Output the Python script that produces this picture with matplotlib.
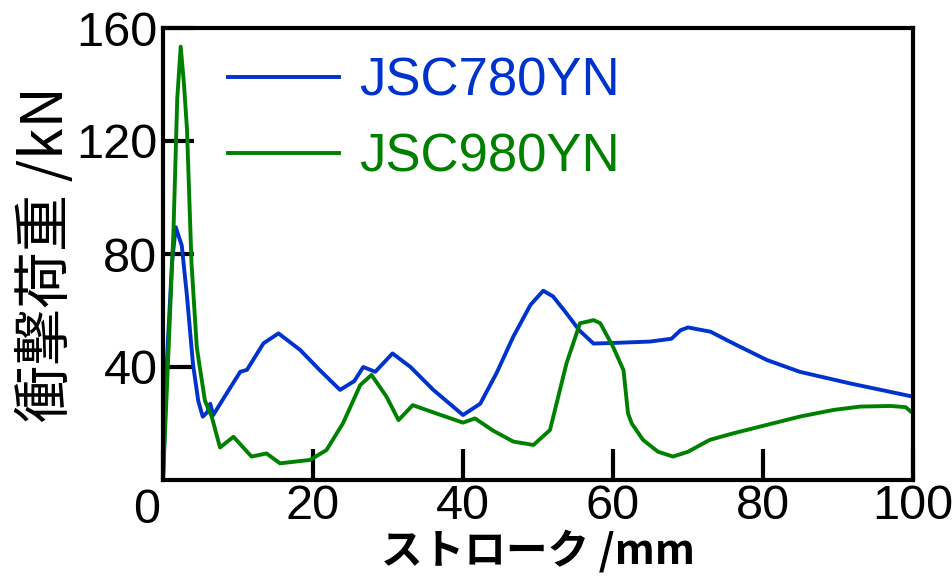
import numpy as np
import matplotlib
matplotlib.use("Agg")
import matplotlib.pyplot as plt

#---------------------------------------------------------------
# stroke vs impact load, JSC780YN / JSC980YN
#---------------------------------------------------------------

# JSC780YN (blue)
x780 = [0, 0.5, 1.2, 1.7, 2.5, 3.2, 4.0, 4.7, 5.3, 5.9, 6.3, 6.7, 8.5, 10.3, 11.2,
        13.4, 15.4, 18.3, 20.9, 23.6, 25.5, 26.7, 28.3, 30.6, 33.0, 36.0, 40.0,
        42.3, 44.5, 46.7, 49.0, 50.7, 52.0, 53.8, 55.5, 57.4, 60.0, 64.9, 67.8,
        69.0, 70.0, 73.0, 76.0, 80.5, 84.9, 91.6, 100]
y780 = [0, 41, 77, 89.5, 83, 65, 41, 28, 22.4, 24, 27, 23, 30.7, 38.3, 39,
        48.4, 51.9, 46, 38.9, 31.9, 35, 40, 38.3, 44.8, 40, 32, 23,
        27, 38, 50.7, 62, 67, 65, 59, 53, 48.3, 48.5, 49, 50,
        53, 54, 52.5, 48.4, 42.5, 38.3, 34.2, 29.5]

# JSC980YN (green)
x980 = [0, 0.8, 1.4, 1.9, 2.36, 2.8, 3.2, 3.8, 4.5, 4.9, 5.6, 6.5, 7.6, 9.4, 11.8,
        13.8, 15.6, 19.6, 21.8, 24.0, 26.3, 27.8, 29.8, 31.4, 33.3, 36.5, 40.0,
        41.6, 44.0, 46.7, 49.4, 51.6, 53.8, 55.6, 56.5, 57.4, 58.3, 60.0, 61.4,
        62.0, 62.5, 64.0, 66.0, 68.0, 70.0, 72.9, 76.0, 80.5, 85.0, 89.4, 93.0,
        97.0, 99.0, 100]
y980 = [0, 50, 88.5, 135, 153.4, 140, 124, 76.7, 47.2, 40, 28, 22.4, 11.5, 15.3, 8.3,
        9.4, 5.9, 7.1, 10.6, 20.1, 33.6, 37.2, 29.5, 21.2, 26.5, 23.5, 20.3,
        21.8, 17.5, 13.6, 12.4, 17.7, 41.3, 55.5, 56, 56.6, 55.5, 47.2, 38.9,
        23.6, 20, 14.2, 10, 8.3, 10, 14.2, 16.5, 19.5, 22.5, 24.8, 26,
        26.2, 25.8, 23.6]

labels = ["JSC780YN", "JSC980YN"]
colors = ["#0033cc", "#008000"]
xticks = [0, 20, 40, 60, 80, 100]
yticks = [40, 80, 120, 160]

plt.rcParams['font.family'] = ['Liberation Sans', 'DejaVu Sans']
jp = ['Noto Sans CJK JP', 'DejaVu Sans']

fig = plt.figure(figsize=(9.53, 5.76), dpi=100)
ax = fig.add_axes([163/953, 1 - 480/576, 750/953, 452/576])

ax.plot(x780, y780, color=colors[0], lw=2.8, label=labels[0], solid_joinstyle='round')
ax.plot(x980, y980, color=colors[1], lw=2.8, label=labels[1], solid_joinstyle='round')

ax.set_xlim(0, 100)
ax.set_ylim(0, 160)
for s in ax.spines.values():
    s.set_linewidth(3)

ax.set_xticks(xticks)
ax.set_xticklabels([""] + [str(v) for v in xticks[1:]])
ax.set_yticks(yticks)
ax.tick_params(direction='in', length=22, width=3, labelsize=35, pad=4)
ax.tick_params(axis='x', pad=3)
ax.text(-0.4, -3, "0", fontsize=35, ha='right', va='top')

ax.set_xlabel("ストローク /mm", fontsize=30, fontweight='bold',
              family=jp, labelpad=0)
ax.set_ylabel("衝撃荷重 /kN", fontsize=41, family=jp, labelpad=0)

leg = ax.legend(loc='upper left', bbox_to_anchor=(0.0867, 0.937), frameon=False,
                fontsize=38, handlelength=2.1, handletextpad=0.38,
                labelspacing=0.5, borderpad=0, borderaxespad=0)
for t, c in zip(leg.get_texts(), colors):
    t.set_color(c)

fig.savefig("out.png", dpi=100)
